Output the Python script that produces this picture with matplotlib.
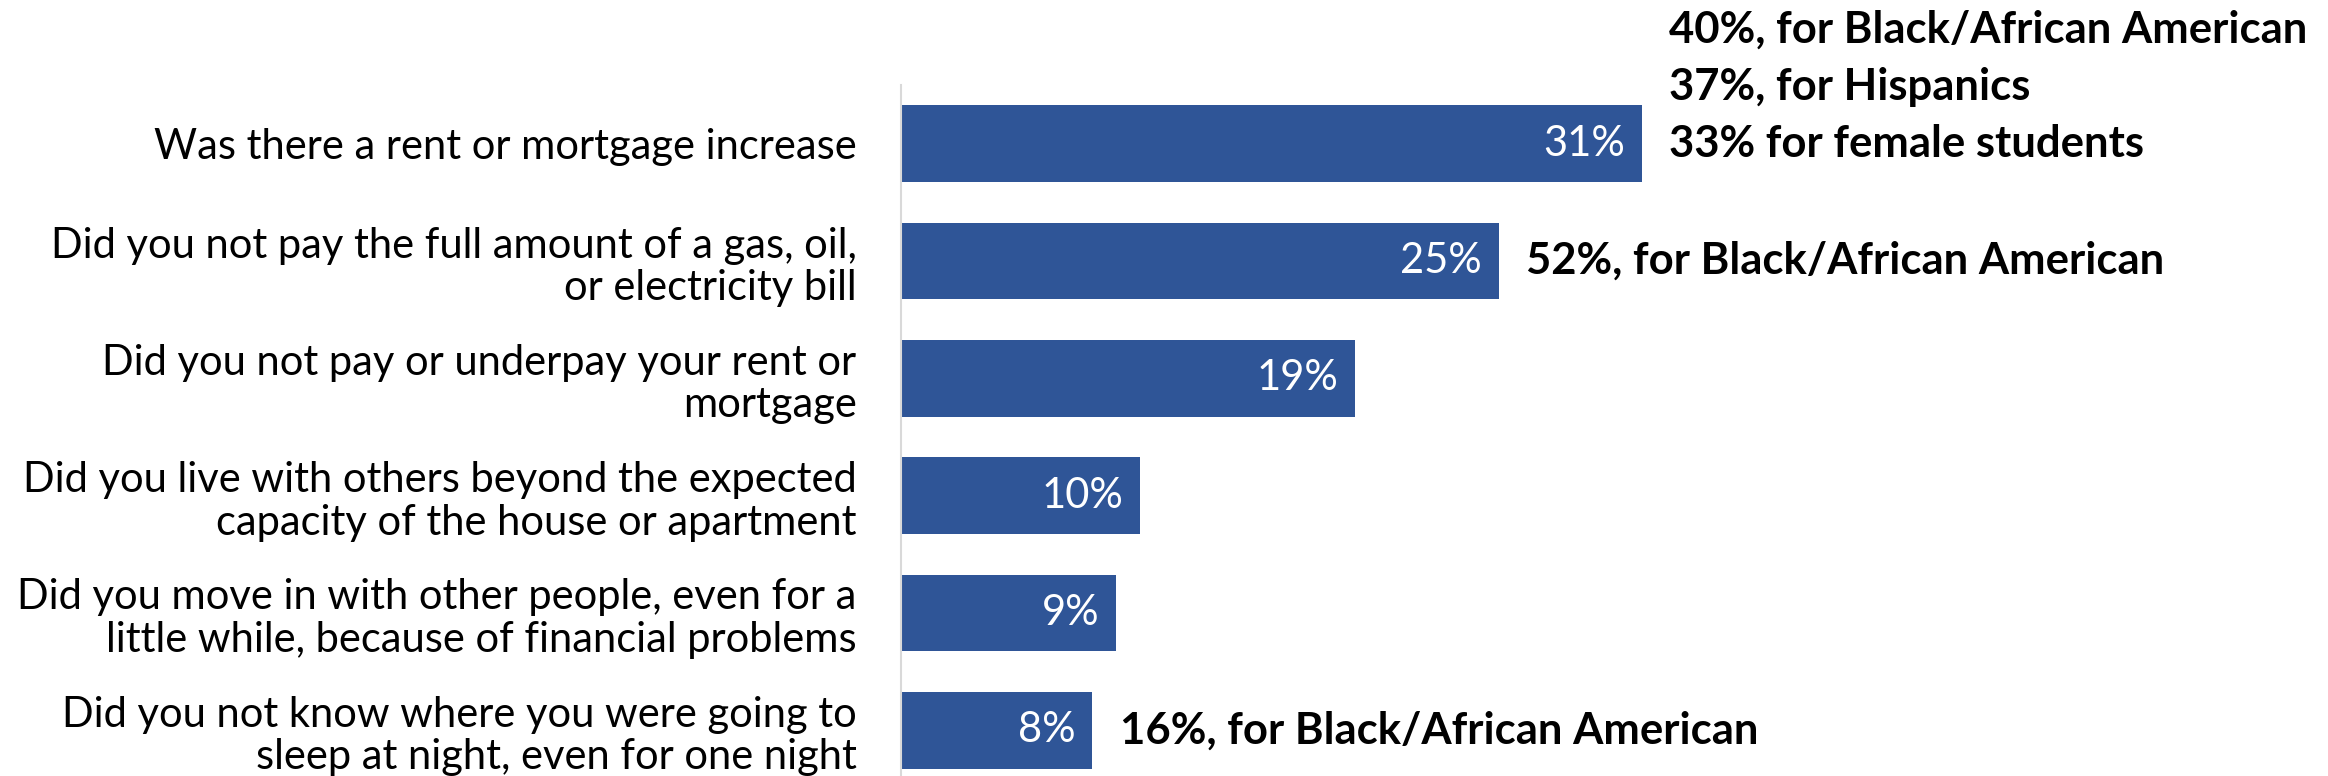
import matplotlib
matplotlib.use("Agg")
import matplotlib.pyplot as plt

categories = [
    "Was there a rent or mortgage increase",
    "Did you not pay the full amount of a gas, oil,\nor electricity bill",
    "Did you not pay or underpay your rent or\nmortgage",
    "Did you live with others beyond the expected\ncapacity of the house or apartment",
    "Did you move in with other people, even for a\nlittle while, because of financial problems",
    "Did you not know where you were going to\nsleep at night, even for one night",
]
values = [31, 25, 19, 10, 9, 8]
value_labels = ["31%", "25%", "19%", "10%", "9%", "8%"]
# annotations: (bar index, list of lines from bottom to top)
annotations = {
    0: ["33% for female students", "37%, for Hispanics", "40%, for Black/African American"],
    1: ["52%, for Black/African American"],
    5: ["16%, for Black/African American"],
}

plt.rcParams['font.family'] = ['Lato', 'DejaVu Sans']
BAR = "#2F5597"

fig = plt.figure(figsize=(23.28, 7.76), dpi=100)
W, H = 2328, 776
ax_left, ax_right = 901 / W, 1.0
top_px, bottom_px = 85, 789
ax = fig.add_axes([ax_left, (H - bottom_px) / H, ax_right - ax_left, (bottom_px - top_px) / H])

y = list(range(len(categories)))
ax.barh(y, values, height=0.656, color=BAR)
ax.set_ylim(len(categories) - 0.5, -0.5)
ax.set_xlim(0, 59.7)

for s in ["top", "right", "bottom"]:
    ax.spines[s].set_visible(False)
ax.spines["left"].set_color("#D9D9D9")
ax.spines["left"].set_linewidth(1.5)
ax.set_xticks([])
ax.set_yticks(y)
ax.set_yticklabels(categories, fontsize=30, ha="right", linespacing=1.15)
ax.tick_params(axis="y", length=0, pad=32)

for i, (v, lab) in enumerate(zip(values, value_labels)):
    ax.text(v - 0.7, i, lab, color="white", fontsize=30, ha="right", va="center")

for i, lines in annotations.items():
    for k, line in enumerate(lines):
        ax.text(values[i] + 1.15, i - 0.485 * k, line, color="black", fontsize=31.4,
                fontweight="bold", ha="left", va="center", clip_on=False)

fig.savefig("out.png", dpi=100)
